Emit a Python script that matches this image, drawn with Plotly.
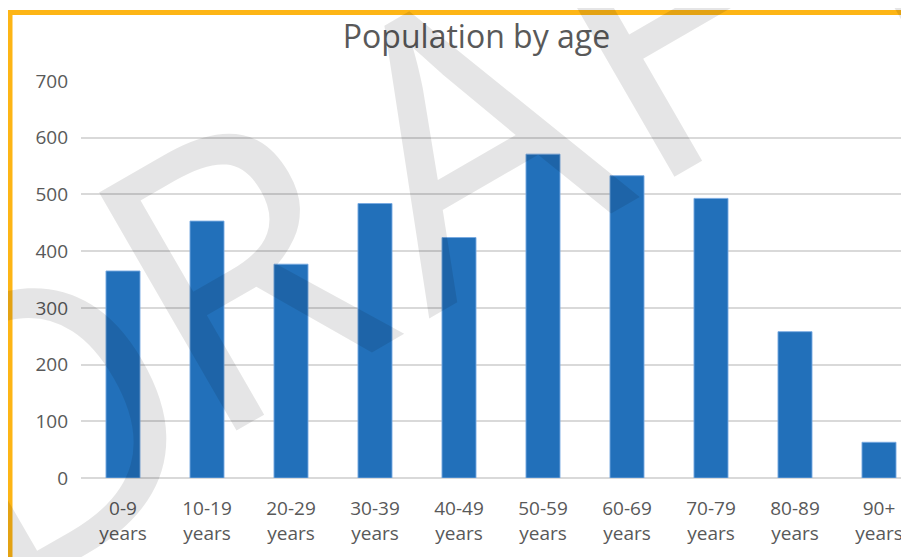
import plotly.graph_objects as go

categories = ["0-9<br>years", "10-19<br>years", "20-29<br>years", "30-39<br>years",
              "40-49<br>years", "50-59<br>years", "60-69<br>years", "70-79<br>years",
              "80-89<br>years", "90+<br>years"]
population = [365, 453, 377, 484, 424, 571, 533, 493, 258, 63]
y_ticks = [0, 100, 200, 300, 400, 500, 600, 700]

# watermark letters and their page-pixel centres (decoration, not data)
wm_letters = ["D", "R", "A", "F", "T"]
wm_centres = [(36, 410), (232, 260), (461, 127.5), (653, 16.75), (852, -98)]

# the page body adds an 8px offset, so the figure is 8px smaller and shifted
OFF = 8
W, H = 909 - OFF, 557 - OFF
ML, MR, MT, MB = 81 - OFF, 0, 81 - OFF, 79
PW, PH = W - ML - MR, H - MT - MB


def px_x(px):
    return (px - OFF - ML) / PW


def px_y(py):
    return (H - MB - (py - OFF)) / PH


fig = go.Figure()
fig.add_trace(go.Bar(
    x=list(range(len(categories))),
    y=population,
    marker=dict(color="#2270BA", line=dict(color="rgba(120,170,225,0.9)", width=1)),
    width=0.405,
    hoverinfo="skip",
))

label_font = dict(family="Open Sans", size=19, color="#595959")

annotations = [
    dict(text=ch, xref="paper", yref="paper", x=px_x(cx), y=px_y(cy),
         xanchor="center", yanchor="middle", showarrow=False, textangle=-30,
         font=dict(family="Open Sans", size=385, color="rgba(0,0,10,0.1)"))
    for ch, (cx, cy) in zip(wm_letters, wm_centres)
]

fig.update_layout(
    width=W, height=H,
    margin=dict(l=ML, r=MR, t=MT, b=MB),
    paper_bgcolor="white", plot_bgcolor="white",
    showlegend=False,
    title=dict(text="Population by age", x=(476.5 - OFF) / W, xref="container", xanchor="center",
               y=1 - (37 - OFF) / H, yref="container", yanchor="middle",
               font=dict(family="Open Sans", size=32, color="#595959")),
    xaxis=dict(
        range=[-0.5, -0.5 + PW / 84.0],
        tickmode="array", tickvals=list(range(len(categories))), ticktext=categories,
        showgrid=False, zeroline=False, showline=False, ticks="",
        tickfont=label_font, ticklabelstandoff=17,
    ),
    yaxis=dict(
        range=[0, 700], tickmode="array", tickvals=y_ticks,
        ticktext=[str(v) for v in y_ticks],
        showgrid=True, gridcolor="#D9D9D9", gridwidth=1.5,
        zeroline=True, zerolinecolor="#D9D9D9", zerolinewidth=1.5,
        showline=False, ticks="", tickfont=label_font, ticklabelstandoff=12,
    ),
    shapes=[
        dict(type="rect", xref="paper", yref="paper",
             x0=px_x(10), x1=px_x(1200), y0=px_y(900), y1=px_y(12.5),
             line=dict(color="#FDB515", width=5), fillcolor="rgba(0,0,0,0)", layer="above"),
    ],
    annotations=annotations,
)

fig.write_html("out.html")
